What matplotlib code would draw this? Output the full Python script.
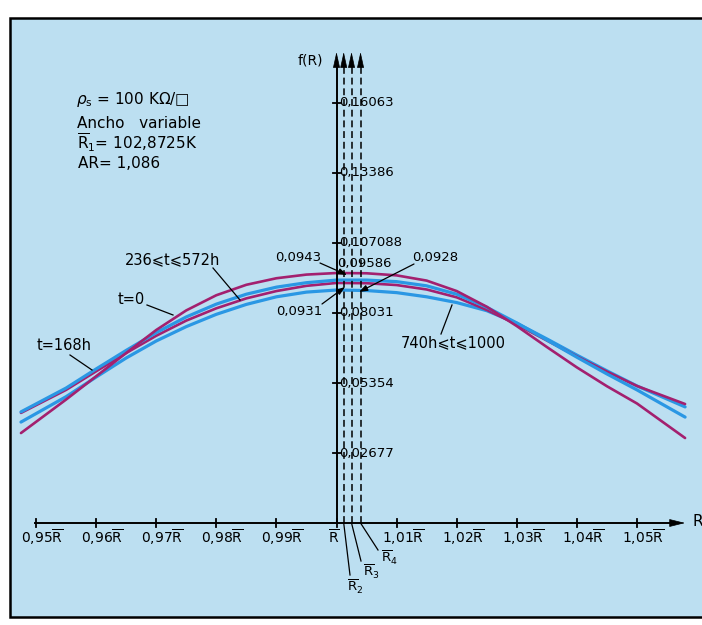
import matplotlib
matplotlib.use('Agg')
import matplotlib.pyplot as plt
from matplotlib.patches import Rectangle

plt.rcParams['font.family'] = ['DejaVu Sans']
plt.rcParams['mathtext.fontset'] = 'dejavusans'

# ---------------- data ----------------
R_rel = [0.9475, 0.955, 0.96, 0.965, 0.97, 0.975, 0.98, 0.985, 0.99, 0.995, 1.0,
         1.005, 1.01, 1.015, 1.02, 1.025, 1.03, 1.035, 1.04, 1.045, 1.05, 1.058]

f_t0 = [0.0344, 0.0472, 0.0561, 0.0650, 0.0738, 0.0813, 0.0871, 0.0911, 0.0936, 0.0950, 0.0956,
        0.0955, 0.0947, 0.0927, 0.0887, 0.0827, 0.0753, 0.0673, 0.0595, 0.0523, 0.0457, 0.0325]
f_t236_572 = [0.0425, 0.0516, 0.0589, 0.0660, 0.0728, 0.0788, 0.0837, 0.0875, 0.0902, 0.0919, 0.0929,
              0.0929, 0.0923, 0.0907, 0.0875, 0.0825, 0.0765, 0.0700, 0.0634, 0.0570, 0.0509, 0.0405]
f_t168 = [0.0421, 0.0509, 0.0580, 0.0650, 0.0716, 0.0774, 0.0821, 0.0859, 0.0887, 0.0907, 0.0918,
          0.0917, 0.0910, 0.0893, 0.0863, 0.0815, 0.0759, 0.0698, 0.0637, 0.0579, 0.0524, 0.0455]
f_t740_1000 = [0.0386, 0.0483, 0.0558, 0.0631, 0.0696, 0.0751, 0.0798, 0.0836, 0.0865, 0.0883, 0.0891,
               0.0889, 0.0881, 0.0865, 0.0843, 0.0812, 0.0764, 0.0704, 0.0642, 0.0582, 0.0524, 0.0444]

x_ticks = [0.95, 0.96, 0.97, 0.98, 0.99, 1.0, 1.01, 1.02, 1.03, 1.04, 1.05]
x_tick_labels = ['0,95', '0,96', '0,97', '0,98', '0,99', '', '1,01', '1,02', '1,03', '1,04', '1,05']
y_ticks = [0.02677, 0.05354, 0.08031, 0.107088, 0.13386, 0.16063]
y_tick_labels = ['0,02677', '0,05354', '0,08031', '0,107088', '0,13386', '0,16063']
R_means = [1.0012, 1.0025, 1.0040]          # R2, R3, R4 (R-bar = 1.0)
mean_names = ['2', '3', '4']

MAGENTA = '#a3206f'
BLUE = '#2a97e4'
BG = '#bcdff1'

# ---------------- figure / pixel mapping ----------------
W, H = 702, 625
K = 0.02677 / 70.0      # data units per pixel (vertical)
SX = 6010.0             # pixels per unit of R/Rbar
X_AXIS = 336.5          # pixel x of Rbar
Y_BASE = 523.0          # pixel y of f=0


def P(px, py):
    return (1 + (px - X_AXIS) / SX, (Y_BASE - py) * K)


fig = plt.figure(figsize=(W / 100, H / 100), dpi=100, facecolor='white')
ax = fig.add_axes([0, 0, 1, 1])
ax.set_xlim(P(0, 0)[0], P(W, 0)[0])
ax.set_ylim(P(0, H)[1], P(0, 0)[1])
ax.axis('off')

# frame with light blue background
ax.add_patch(Rectangle((10 / W, 8 / H), (715 - 10) / W, (607 - 8) / H,
                       transform=ax.transAxes, facecolor=BG, edgecolor='black',
                       lw=1.8, zorder=0, clip_on=False))

# curves
ln_kw = dict(zorder=2, solid_capstyle='round', solid_joinstyle='round')
ax.plot(R_rel, f_t740_1000, color=BLUE, lw=2.3, **ln_kw)
ax.plot(R_rel, f_t168, color=MAGENTA, lw=1.9, **ln_kw)
ax.plot(R_rel, f_t236_572, color=BLUE, lw=2.3, **ln_kw)
ax.plot(R_rel, f_t0, color=MAGENTA, lw=1.9, **ln_kw)

# axes lines
ytop = P(0, 52)[1]
x_left = P(35, 0)[0]
x_tip = P(685, 0)[0]
ax.plot([x_left, x_tip - 0.001], [0, 0], color='black', lw=1.4, zorder=3)
ax.annotate('', xy=(x_tip, 0), xytext=(x_tip - 0.002, 0),
            arrowprops=dict(arrowstyle='-|>,head_length=1.0,head_width=0.25',
                            color='black', lw=0.5, shrinkA=0, shrinkB=0), zorder=3)
ax.plot([1.0, 1.0], [0, ytop - 0.003], color='black', lw=1.4, zorder=3)
for xm in R_means:
    ax.plot([xm, xm], [0, ytop - 0.003], color='black', lw=1.1,
            linestyle=(0, (4.5, 2.5)), zorder=3)
for xm in [1.0] + R_means:
    ax.annotate('', xy=(xm, ytop), xytext=(xm, ytop - 0.003),
                arrowprops=dict(arrowstyle='-|>,head_length=1.0,head_width=0.22',
                                color='black', lw=0.5, shrinkA=0, shrinkB=0), zorder=3)

FS = 10
# x ticks
dv = 4 * K
for xt, lab in zip(x_ticks, x_tick_labels):
    ax.plot([xt, xt], [-dv, dv], color='black', lw=1.3, zorder=3)
    txt = (lab + r'$\overline{\mathrm{R}}$') if lab else r'$\overline{\mathrm{R}}$'
    ax.annotate(txt, xy=(xt, 0), xytext=(4.5 if lab else -2, -3.5), textcoords='offset points',
                ha='center', va='top', fontsize=FS, zorder=4)
ax.text(*P(692, 521), 'R', fontsize=11, ha='left', va='center')

# y ticks
dx = 4 / SX
for yt, lab in zip(y_ticks, y_tick_labels):
    ax.plot([1.0 - dx, 1.0 + dx], [yt, yt], color='black', lw=1.3, zorder=3)
    ax.annotate(lab, xy=(1.0, yt), xytext=(2.2, 0), textcoords='offset points',
                ha='left', va='center', fontsize=9.5, zorder=4)
ax.text(*P(323, 60), 'f(R)', fontsize=FS, ha='right', va='center')

# value annotations with arrows
arrow_kw = dict(arrowstyle='-|>,head_length=0.5,head_width=0.18', color='black',
                lw=0.9, shrinkA=0, shrinkB=0)
ax.text(*P(337, 263), '0,09586', fontsize=9.5, ha='left', va='center')
ax.text(*P(321, 257), '0,0943', fontsize=9.5, ha='right', va='center')
ax.annotate('', xy=P(347, 275), xytext=P(320, 263), arrowprops=arrow_kw)
ax.text(*P(412, 257), '0,0928', fontsize=9.5, ha='left', va='center')
ax.annotate('', xy=P(359, 292), xytext=P(414, 264), arrowprops=arrow_kw)
ax.text(*P(322, 312), '0,0931', fontsize=9.5, ha='right', va='center')
ax.annotate('', xy=P(345, 287), xytext=P(322, 304), arrowprops=arrow_kw)

# curve labels with leader lines
LFS = 10.5
ax.text(*P(125, 260), '236⩽t⩽572h', fontsize=LFS, ha='left', va='center')
ax.plot(*zip(P(213, 268), P(240, 300)), color='black', lw=0.9)
ax.text(*P(118, 300), 't=0', fontsize=LFS, ha='left', va='center')
ax.plot(*zip(P(147, 305), P(173, 315)), color='black', lw=0.9)
ax.text(*P(37, 346), 't=168h', fontsize=LFS, ha='left', va='center')
ax.plot(*zip(P(70, 355), P(92, 370)), color='black', lw=0.9)
ax.text(*P(401, 343), '740h⩽t⩽1000', fontsize=LFS, ha='left', va='center')
ax.plot(*zip(P(441, 334), P(452, 305)), color='black', lw=0.9)

# R2, R3, R4 labels under the axis
lab_pos = [(355, 587), (371, 572), (389, 558)]
lead_end = [(350, 575), (361, 561), (378, 550)]
for xm, nm, (lx, ly), (ex, ey) in zip(R_means, mean_names, lab_pos, lead_end):
    ax.plot([xm, P(ex, ey)[0]], [0, P(ex, ey)[1]], color='black', lw=0.9)
    ax.text(*P(lx, ly), r'$\overline{\mathrm{R}}_{%s}$' % nm, fontsize=9.5, ha='center', va='center')

# info block
IFS = 11
ax.text(*P(76, 100), r'$\rho_{\mathrm{s}}$ = 100 KΩ/□', fontsize=IFS, ha='left', va='center')
ax.text(*P(77, 123), 'Ancho   variable', fontsize=IFS, ha='left', va='center')
ax.text(*P(77, 143), r'$\overline{\mathrm{R}}_{1}$= 102,8725K', fontsize=IFS, ha='left', va='center')
ax.text(*P(78, 164), 'AR= 1,086', fontsize=IFS, ha='left', va='center')

fig.savefig('out.png', dpi=100, facecolor='white')
